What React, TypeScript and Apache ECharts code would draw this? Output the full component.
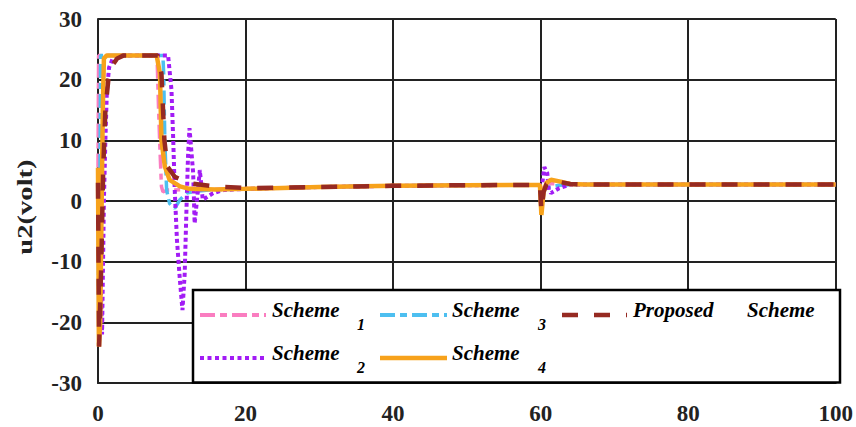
import React, { useEffect, useRef } from "react";
import * as echarts from "echarts";

const FONT = '"Liberation Serif", "Times New Roman", Times, serif';

// X tick labels / axis ranges
const xTicks = [0, 20, 40, 60, 80, 100];
const yTicks = [-30, -20, -10, 0, 10, 20, 30];

// Scheme 1 (pink dash-dot)
const s1T = [0, 0.08, 8.0, 8.2, 8.4, 8.6, 8.8, 9.5, 12, 20, 30, 40, 50, 59.9, 60.1, 60.5, 61.3, 63, 80, 100];
const s1V = [5.5, 24, 24, 15.5, 8.4, 2.4, 1.5, 1.8, 1.9, 2.0, 2.3, 2.5, 2.6, 2.65, 1.0, 2.5, 2.9, 2.7, 2.7, 2.7];

// Scheme 2 (purple dotted)
const s2T = [0, 0.1, 0.55, 0.8, 1.0, 1.2, 1.5, 2.0, 2.8, 9.5, 9.96, 10.2, 10.4, 10.7, 11.1, 11.45, 11.75, 12.0, 12.2, 12.4, 12.9, 13.1, 13.55, 13.8, 14.2, 15.6, 17, 20, 30, 40, 50, 60.2, 60.5, 60.9, 61.1, 61.4, 62.5, 64, 80, 100];
const s2V = [0, 0, -22, 0, 10, 18, 22, 23.5, 24, 24, 18.3, 10, 1.8, -6.4, -13, -18, -12, -1, 7.3, 12, 4.6, -3.7, 1.8, 5.1, 0.2, 1.3, 1.8, 2.0, 2.3, 2.5, 2.6, 2.65, 5.6, 4.6, 1.8, 1.3, 2.1, 2.7, 2.7, 2.7];

// Scheme 3 (blue dash-dot)
const s3T = [0, 0.12, 0.25, 0.35, 8.8, 8.9, 9.06, 9.3, 9.7, 10.4, 11.1, 12, 13.3, 15, 20, 30, 40, 50, 60.0, 60.5, 61.2, 62.5, 64, 80, 100];
const s3V = [0, -22, 0, 24, 24, 21, 10, 1.8, -0.4, -1.2, 0.2, 1.3, 1.6, 1.8, 2.0, 2.3, 2.5, 2.6, 2.65, 2.2, 2.3, 2.6, 2.7, 2.7, 2.7];

// Scheme 4 (orange solid)
const s4T = [0, 0.12, 0.3, 0.5, 0.65, 0.8, 1.2, 7.95, 8.4, 8.6, 9.06, 9.7, 11.1, 12.4, 16, 20, 30, 40, 50, 59.9, 60.1, 60.4, 60.8, 61.4, 62.7, 64, 66, 80, 100];
const s4V = [5.5, -24, -20, 0, 15, 23.5, 24, 24, 21, 10, 5.7, 3.5, 2.4, 2.0, 1.9, 2.0, 2.3, 2.5, 2.6, 2.65, -2.3, 1.5, 3.0, 3.5, 3.2, 2.8, 2.7, 2.7, 2.7];

// Proposed scheme (brown dashed)
const pT = [0, 0.15, 0.45, 0.7, 1.0, 1.4, 1.9, 2.6, 3.5, 8.1, 8.6, 8.8, 9.0, 9.4, 10.4, 12.4, 16, 20.5, 30, 40, 50, 59.9, 60.1, 60.4, 60.8, 61.5, 62.7, 64, 66, 80, 100];
const pV = [3, -24, -10, 5, 15, 20, 22.3, 23.5, 24, 24, 21, 15.5, 10, 5.7, 4.0, 2.9, 2.4, 2.1, 2.3, 2.5, 2.6, 2.65, -1.6, 1.5, 2.8, 3.3, 3.1, 2.8, 2.7, 2.7, 2.7];

const COLORS = {
  s1: "#FA7DC0",
  s2: "#A21CF5",
  s3: "#4DBFF0",
  s4: "#F7A21B",
  p: "#962A22",
};

const zip = (t: number[], v: number[]) => t.map((x, i) => [x, v[i]]);

export default function App() {
  const ref = useRef<HTMLDivElement>(null);

  useEffect(() => {
    if (!ref.current) return;
    const chart = echarts.init(ref.current, undefined, { renderer: "svg" });

    const legendText = (text: string, x: number, y: number, size = 21, align = "left") => ({
      type: "text",
      x,
      y,
      z: 101,
      style: {
        text,
        fontSize: size,
        fontWeight: "bold",
        fontStyle: "italic",
        fontFamily: FONT,
        fill: "#000",
        textAlign: align,
        textVerticalAlign: "middle",
      },
    });
    const legendLine = (x1: number, x2: number, y: number, color: string, width: number, dash: number[] | null) => ({
      type: "line",
      z: 101,
      shape: { x1, y1: y, x2, y2: y },
      style: { stroke: color, lineWidth: width, lineDash: dash || undefined, lineCap: "butt" },
    });

    const row1 = 315;
    const row2 = 358;
    const t1 = 309.5;
    const t2 = 352.5;

    chart.setOption({
      animation: false,
      backgroundColor: "#fff",
      grid: { left: 98, right: 16, top: 19, bottom: 44, containLabel: false },
      xAxis: {
        type: "value",
        min: xTicks[0],
        max: xTicks[xTicks.length - 1],
        interval: 20,
        axisLine: { show: true, onZero: false, lineStyle: { color: "#222", width: 2 } },
        axisTick: { show: false },
        splitLine: { show: true, lineStyle: { color: "#222", width: 2 } },
        axisLabel: {
          margin: 19,
          fontSize: 23,
          fontWeight: "bold",
          fontFamily: FONT,
          color: "#222",
        },
      },
      yAxis: {
        type: "value",
        min: yTicks[0],
        max: yTicks[yTicks.length - 1],
        interval: 10,
        axisLine: { show: true, lineStyle: { color: "#222", width: 2 } },
        axisTick: { show: false },
        splitLine: { show: true, lineStyle: { color: "#222", width: 2 } },
        axisLabel: {
          margin: 16,
          fontSize: 23,
          fontWeight: "bold",
          fontFamily: FONT,
          color: "#222",
        },
      },
      series: [
        {
          name: "Scheme 1",
          type: "line",
          showSymbol: false,
          data: zip(s1T, s1V),
          lineStyle: { color: COLORS.s1, width: 3.5, type: [14, 5, 6, 5] },
          itemStyle: { color: COLORS.s1 },
        },
        {
          name: "Scheme 3",
          type: "line",
          showSymbol: false,
          data: zip(s3T, s3V),
          lineStyle: { color: COLORS.s3, width: 3.5, type: [14, 5, 6, 5] },
          itemStyle: { color: COLORS.s3 },
        },
        {
          name: "Scheme 2",
          type: "line",
          showSymbol: false,
          data: zip(s2T, s2V),
          lineStyle: { color: COLORS.s2, width: 4, type: [4, 3] },
          itemStyle: { color: COLORS.s2 },
        },
        {
          name: "Scheme 4",
          type: "line",
          showSymbol: false,
          data: zip(s4T, s4V),
          lineStyle: { color: COLORS.s4, width: 4.5, type: "solid" },
          itemStyle: { color: COLORS.s4 },
        },
        {
          name: "Proposed Scheme",
          type: "line",
          showSymbol: false,
          data: zip(pT, pV),
          lineStyle: { color: COLORS.p, width: 4.5, type: [16, 16] },
          itemStyle: { color: COLORS.p },
        },
      ],
      graphic: [
        {
          type: "text",
          x: 25,
          y: 207,
          rotation: Math.PI / 2,
          scaleX: 1.3,
          z: 50,
          style: {
            text: "u2(volt)",
            fontSize: 22,
            fontWeight: "bold",
            fontFamily: FONT,
            fill: "#222",
            textAlign: "center",
            textVerticalAlign: "middle",
          },
        },
        {
          type: "rect",
          z: 100,
          shape: { x: 193, y: 290, width: 647, height: 92.5 },
          style: { fill: "#fff", stroke: "#000", lineWidth: 2.5 },
        },
        legendLine(200, 266, row1, COLORS.s1, 4, [15, 5, 7, 5]),
        legendText("Scheme", 272, t1),
        legendText("1", 361, 324, 16, "center"),
        legendLine(380, 447, row1, COLORS.s3, 4, [15, 5, 7, 5]),
        legendText("Scheme", 452, t1),
        legendText("3", 542, 324, 16, "center"),
        legendLine(562, 627, row1, COLORS.p, 4.5, [16, 16]),
        legendText("Proposed", 633, t1),
        legendText("Scheme", 747, t1),
        legendLine(200, 266, row2, COLORS.s2, 4, [4, 3.5]),
        legendText("Scheme", 272, t2),
        legendText("2", 361, 367, 16, "center"),
        legendLine(380, 447, row2, COLORS.s4, 4.5, null),
        legendText("Scheme", 452, t2),
        legendText("4", 542, 367, 16, "center"),
      ],
    });

    return () => chart.dispose();
  }, []);

  return (
    <div
      ref={ref}
      style={{ position: "fixed", left: 0, top: 0, width: 856, height: 427, background: "#fff" }}
    />
  );
}
